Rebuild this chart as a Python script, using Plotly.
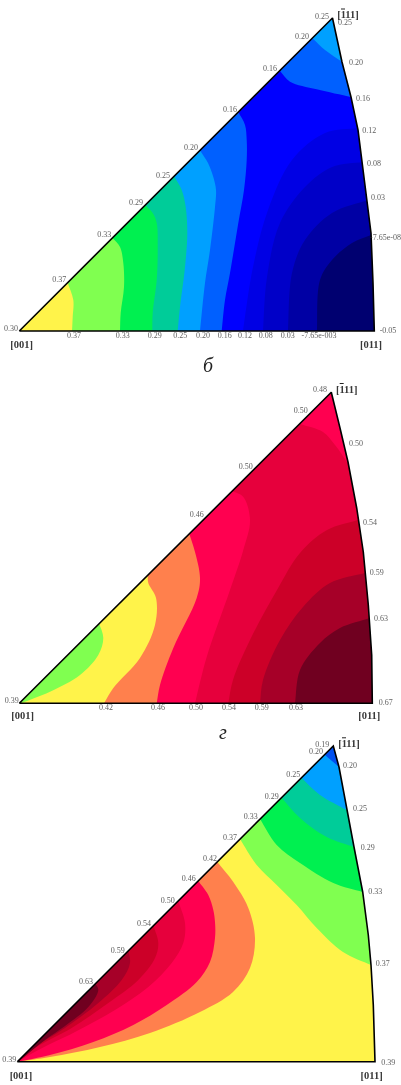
import plotly.graph_objects as go

YELLOW = "#fff34a"
LIGHT_GREEN = "#80ff50"
GREEN = "#00f050"
TEAL = "#00cc99"
SKY = "#00a0ff"
MID_BLUE = "#0060ff"
BLUE = "#0000ff"
BLUE_2 = "#0000e4"
BLUE_3 = "#0000c8"
BLUE_4 = "#0000a4"
NAVY = "#000070"
ORANGE = "#ff804d"
RED_1 = "#ff0050"
RED_2 = "#e6003c"
RED_3 = "#cc0028"
RED_4 = "#a60028"
RED_5 = "#700020"

# triangle outlines
P1_OUTLINE = [(19.3, 331), (332.5, 18), (342, 62), (351, 97), (358, 130), (365, 187), (368, 207), (371, 233), (373, 283), (374.3, 331)]
P2_OUTLINE = [(19.3, 703.3), (331.3, 392.3), (340, 428), (348, 462), (356.7, 508), (363.3, 552), (368.3, 605), (371.7, 655), (372.3, 703.3)]
P3_OUTLINE = [(17.3, 1061.7), (333.3, 746), (339, 767), (346.7, 809), (354, 847), (362.7, 892), (368.3, 935), (371, 965), (373.3, 1005), (375, 1061.7)]

# panel 1 isolines
P1_037 = [(72, 331), (72.7, 317), (73.3, 300), (67.7, 283)]
P1_033 = [(120, 331), (120.7, 313), (124, 287), (123.3, 263), (120, 247), (112.7, 238)]
P1_029 = [(152.3, 331), (152.7, 313), (156.7, 280), (157.7, 247), (156.7, 223), (152.7, 213), (145, 205)]
P1_025 = [(177.7, 331), (180, 307), (185, 267), (187.3, 233), (185.7, 207), (181.7, 190), (174, 176)]
P1_020 = [(200, 331), (205, 283), (210, 250), (215, 207), (216, 190), (213.3, 177), (208, 163), (200, 150.5)]
P1_016 = [(221.7, 331), (225, 300), (230, 273), (238.3, 223), (244, 190), (246.7, 160), (246.7, 140), (245, 125), (238.3, 112)]
P1_012 = [(243, 331), (253, 267), (268, 210), (292, 160), (325, 133), (358, 128)]
P1_008 = [(263, 331), (267, 277), (280, 223), (305, 187), (332, 167), (363, 162)]
P1_003 = [(288, 331), (292, 273), (305, 240), (332, 213), (368, 200)]
P1_000 = [(317, 331), (320, 280), (332, 260), (352, 243), (371, 235)]
P1_TOP_016 = [(280, 71), (290, 81.7), (316.7, 89.3), (351, 97)]
P1_TOP_020 = [(312.7, 38.5), (325, 50), (342.3, 62)]

# panel 2 isolines
P2_042 = [(99, 623), (103.3, 638), (98.3, 655), (80, 675), (50, 691.7), (20.7, 703.3)]
P2_046 = [(104, 703.3), (113.3, 688), (140, 658), (155, 625), (156, 598), (148.3, 583), (147.7, 575)]
P2_050 = [(156.7, 703.3), (160, 685), (173.3, 648), (196.7, 598), (200, 578), (195, 552), (188.3, 531)]
P2_054 = [(195, 703.3), (206.7, 657), (230, 590), (243.3, 550), (250, 520), (243.3, 497), (232, 491)]
P2_059 = [(228.3, 703.3), (233, 680), (250, 640), (277, 590), (300, 553), (327, 530), (358, 520)]
P2_063 = [(260, 703.3), (263, 680), (280, 640), (303, 607), (330, 583), (365, 573)]
P2_067 = [(295, 703.3), (300, 670), (320, 643), (340, 628), (370, 618)]
P2_TOP_054 = [(300, 424), (323, 432), (335, 445), (347, 462)]

# panel 3 isolines
P3_020 = [(325, 755), (339, 767)]
P3_025 = [(301.7, 778), (320, 795), (346.7, 810)]
P3_029 = [(281.7, 798), (300, 818), (326.7, 837), (354, 847)]
P3_033 = [(260, 819), (276.7, 845), (300, 863), (333.3, 883), (362.7, 892)]
P3_037 = [(240, 839), (256.7, 865), (276.7, 885), (296.7, 905), (316.7, 928), (343, 952), (371, 965)]
P3_042 = [(217.3, 862), (233.3, 882), (248.3, 908), (255, 938), (250, 968), (233, 992), (200, 1012), (150, 1033), (100, 1047), (50, 1057), (18, 1061.7)]
P3_046 = [(198.3, 881), (208.3, 895), (213.3, 910), (215, 922), (215, 938), (210, 962), (196.7, 982), (166.7, 1005), (133.3, 1025), (93.3, 1042), (50, 1055), (19, 1061.5)]
P3_050 = [(178.3, 901), (185, 923), (183.3, 943), (171.7, 963), (148.3, 987), (115, 1010), (75, 1032), (38.3, 1050), (18.5, 1061.5)]
P3_054 = [(153.3, 925), (158.3, 943), (155, 958), (138.3, 980), (108.3, 1003), (71.7, 1028), (35, 1048), (18.5, 1061.5)]
P3_059 = [(128.3, 950), (130, 963), (121.7, 980), (98.3, 1003), (65, 1028), (35, 1047), (18.5, 1061.5)]
P3_063 = [(95, 983), (98.3, 990), (88.3, 1007), (65, 1026), (45, 1040), (18.5, 1061.5)]

# small value labels: text, x, y
P1_LABELS = [("0.25", 322, 16.5), ("0.25", 345, 23), ("0.20", 302, 37), ("0.20", 356, 63), ("0.16", 270, 69),
             ("0.16", 363, 99), ("0.16", 230, 110), ("0.12", 369.3, 131), ("0.20", 191, 148), ("0.08", 374, 164),
             ("0.25", 163, 176), ("0.03", 378, 198), ("0.29", 136, 203), ("0.33", 104.3, 235), ("-7.65e-08", 385.5, 238),
             ("0.37", 59.3, 280), ("0.30", 11, 329.3), ("-0.05", 388, 331), ("0.37", 74, 336), ("0.33", 122.7, 336),
             ("0.29", 154.7, 336), ("0.25", 180.3, 336), ("0.20", 203, 336), ("0.16", 224.7, 336), ("0.12", 245, 336),
             ("0.08", 265.7, 336), ("0.03", 287.7, 336), ("-7.65e-003", 319, 336)]
P2_LABELS = [("0.48", 320, 390), ("0.50", 300.7, 411), ("0.50", 356, 444), ("0.50", 245.7, 466.7), ("0.46", 196.7, 515),
             ("0.54", 370, 522.7), ("0.59", 376.7, 573), ("0.63", 381, 619), ("0.39", 11.7, 701), ("0.67", 385.7, 703.3),
             ("0.42", 106, 708), ("0.46", 158, 708), ("0.50", 196, 708), ("0.54", 229, 708), ("0.59", 261.7, 708),
             ("0.63", 296, 708)]
P3_LABELS = [("0.19", 322.3, 745), ("0.20", 316, 752), ("0.20", 350, 766.3), ("0.25", 293.3, 775), ("0.25", 360, 809),
             ("0.29", 271.7, 797), ("0.29", 367.7, 848), ("0.33", 250.7, 817.3), ("0.33", 375.3, 892), ("0.37", 230, 838.3),
             ("0.42", 210, 858.7), ("0.46", 188.7, 879.3), ("0.50", 167.7, 901), ("0.54", 144, 924.3), ("0.59", 117.7, 950.7),
             ("0.63", 86, 982.3), ("0.37", 382.7, 963.7), ("0.39", 9.3, 1060.3), ("0.39", 388.3, 1062.7)]

MILLER = ["[001]", "[011]", "[111]"]
P1_MILLER = [(21.7, 345), (371, 345), (348, 15.5)]
P2_MILLER = [(22.7, 716.7), (369.3, 716.7), (346.7, 390)]
P3_MILLER = [(21, 1076), (371.7, 1076), (349, 744.3)]


def extend(line, dist=14):
    # carry the isoline on past the triangle, the mask cuts it back afterwards
    def step(a, b):
        dx, dy = a[0] - b[0], a[1] - b[1]
        n = (dx * dx + dy * dy) ** 0.5
        return (a[0] + dx / n * dist, a[1] + dy / n * dist)
    return [step(line[0], line[1])] + line + [step(line[-1], line[-2])]


def add_region(fig, line, closure, color):
    pts = extend(line) + closure
    fig.add_trace(go.Scatter(
        x=[p[0] for p in pts], y=[p[1] for p in pts],
        mode="lines", fill="toself", fillcolor=color,
        line=dict(width=0, shape="spline"), hoverinfo="skip",
    ))


def add_mask(fig, outline, top, bottom):
    # white rectangle with the triangle cut out of it
    rect = [(-5, top), (-5, bottom), (406, bottom), (406, top), (-5, top)]
    tri = outline + [outline[0]]
    x = [p[0] for p in rect] + [None] + [p[0] for p in tri]
    y = [p[1] for p in rect] + [None] + [p[1] for p in tri]
    fig.add_trace(go.Scatter(x=x, y=y, mode="lines", fill="toself", fillcolor="white",
                             line=dict(width=0), hoverinfo="skip"))
    fig.add_trace(go.Scatter(x=[p[0] for p in tri], y=[p[1] for p in tri], mode="lines",
                             line=dict(color="black", width=1.6), hoverinfo="skip"))


def add_labels(fig, labels, miller_pos):
    fig.add_trace(go.Scatter(
        x=[l[1] for l in labels], y=[l[2] for l in labels], text=[l[0] for l in labels],
        mode="text", textposition="middle center", opacity=0.8,
        textfont=dict(family="Liberation Serif", size=8, color="#333333"), hoverinfo="skip",
    ))
    fig.add_trace(go.Scatter(
        x=[p[0] for p in miller_pos], y=[p[1] for p in miller_pos], text=MILLER,
        mode="text", textposition="middle center", opacity=0.9,
        textfont=dict(family="Liberation Serif", size=10.5, color="#222222", weight="bold"), hoverinfo="skip",
    ))
    # the bar over the first digit of [-111]
    bx, by = miller_pos[2]
    fig.add_trace(go.Scatter(
        x=[bx - 7, bx - 3], y=[by - 6.5, by - 6.5], mode="lines",
        line=dict(color="#222222", width=1), hoverinfo="skip",
    ))


fig = go.Figure()

# panel 1
fig.add_trace(go.Scatter(x=[p[0] for p in P1_OUTLINE], y=[p[1] for p in P1_OUTLINE], mode="lines", fill="toself",
                         fillcolor=BLUE, line=dict(width=0), hoverinfo="skip"))
for line, color in [(P1_012, BLUE_2), (P1_008, BLUE_3), (P1_003, BLUE_4), (P1_000, NAVY)]:
    add_region(fig, line, [(398, 350)], color)
for line, color in [(P1_016, MID_BLUE), (P1_020, SKY), (P1_025, TEAL), (P1_029, GREEN), (P1_033, LIGHT_GREEN), (P1_037, YELLOW)]:
    add_region(fig, line, [(3, 20), (3, 350)], color)
for line, color in [(P1_TOP_016, MID_BLUE), (P1_TOP_020, SKY)]:
    add_region(fig, line, [(398, 5), (230, 5)], color)
add_mask(fig, P1_OUTLINE, -5, 358)
add_labels(fig, P1_LABELS, P1_MILLER)

# panel 2
fig.add_trace(go.Scatter(x=[p[0] for p in P2_OUTLINE], y=[p[1] for p in P2_OUTLINE], mode="lines", fill="toself",
                         fillcolor=RED_2, line=dict(width=0), hoverinfo="skip"))
for line, color in [(P2_059, RED_3), (P2_063, RED_4), (P2_067, RED_5)]:
    add_region(fig, line, [(398, 718)], color)
for line, color in [(P2_054, RED_1), (P2_050, ORANGE), (P2_046, YELLOW)]:
    add_region(fig, line, [(3, 400), (3, 718)], color)
add_region(fig, P2_042, [(3, 712), (3, 560), (60, 560)], LIGHT_GREEN)
add_region(fig, P2_TOP_054, [(398, 378), (250, 378)], RED_1)
add_mask(fig, P2_OUTLINE, 358, 724)
add_labels(fig, P2_LABELS, P2_MILLER)

# panel 3
fig.add_trace(go.Scatter(x=[p[0] for p in P3_OUTLINE], y=[p[1] for p in P3_OUTLINE], mode="lines", fill="toself",
                         fillcolor=YELLOW, line=dict(width=0), hoverinfo="skip"))
for line, color in [(P3_037, LIGHT_GREEN), (P3_033, GREEN), (P3_029, TEAL), (P3_025, SKY), (P3_020, "#0050f0")]:
    add_region(fig, line, [(398, 742), (260, 742)], color)
for line, color in [(P3_042, ORANGE), (P3_046, RED_1), (P3_050, RED_2), (P3_054, RED_3), (P3_059, RED_4), (P3_063, RED_5)]:
    add_region(fig, line, [(3, 860)], color)
add_mask(fig, P3_OUTLINE, 724, 1090)
add_labels(fig, P3_LABELS, P3_MILLER)

# captions under the panels
fig.add_annotation(x=208, y=365, text="б", showarrow=False,
                   font=dict(family="Liberation Serif", size=20, color="#222222", style="italic"))
fig.add_annotation(x=222.5, y=732, text="г", showarrow=False,
                   font=dict(family="Liberation Serif", size=20, color="#222222", style="italic"))

fig.update_layout(
    width=401, height=1085,
    margin=dict(l=0, r=0, t=0, b=0),
    paper_bgcolor="white", plot_bgcolor="white",
    showlegend=False,
    xaxis=dict(range=[0, 401], visible=False, fixedrange=True),
    yaxis=dict(range=[1085, 0], visible=False, fixedrange=True),
)

fig.write_html("out.html", config=dict(displayModeBar=False), post_script="document.body.style.margin='0';document.documentElement.style.overflow='hidden';")
